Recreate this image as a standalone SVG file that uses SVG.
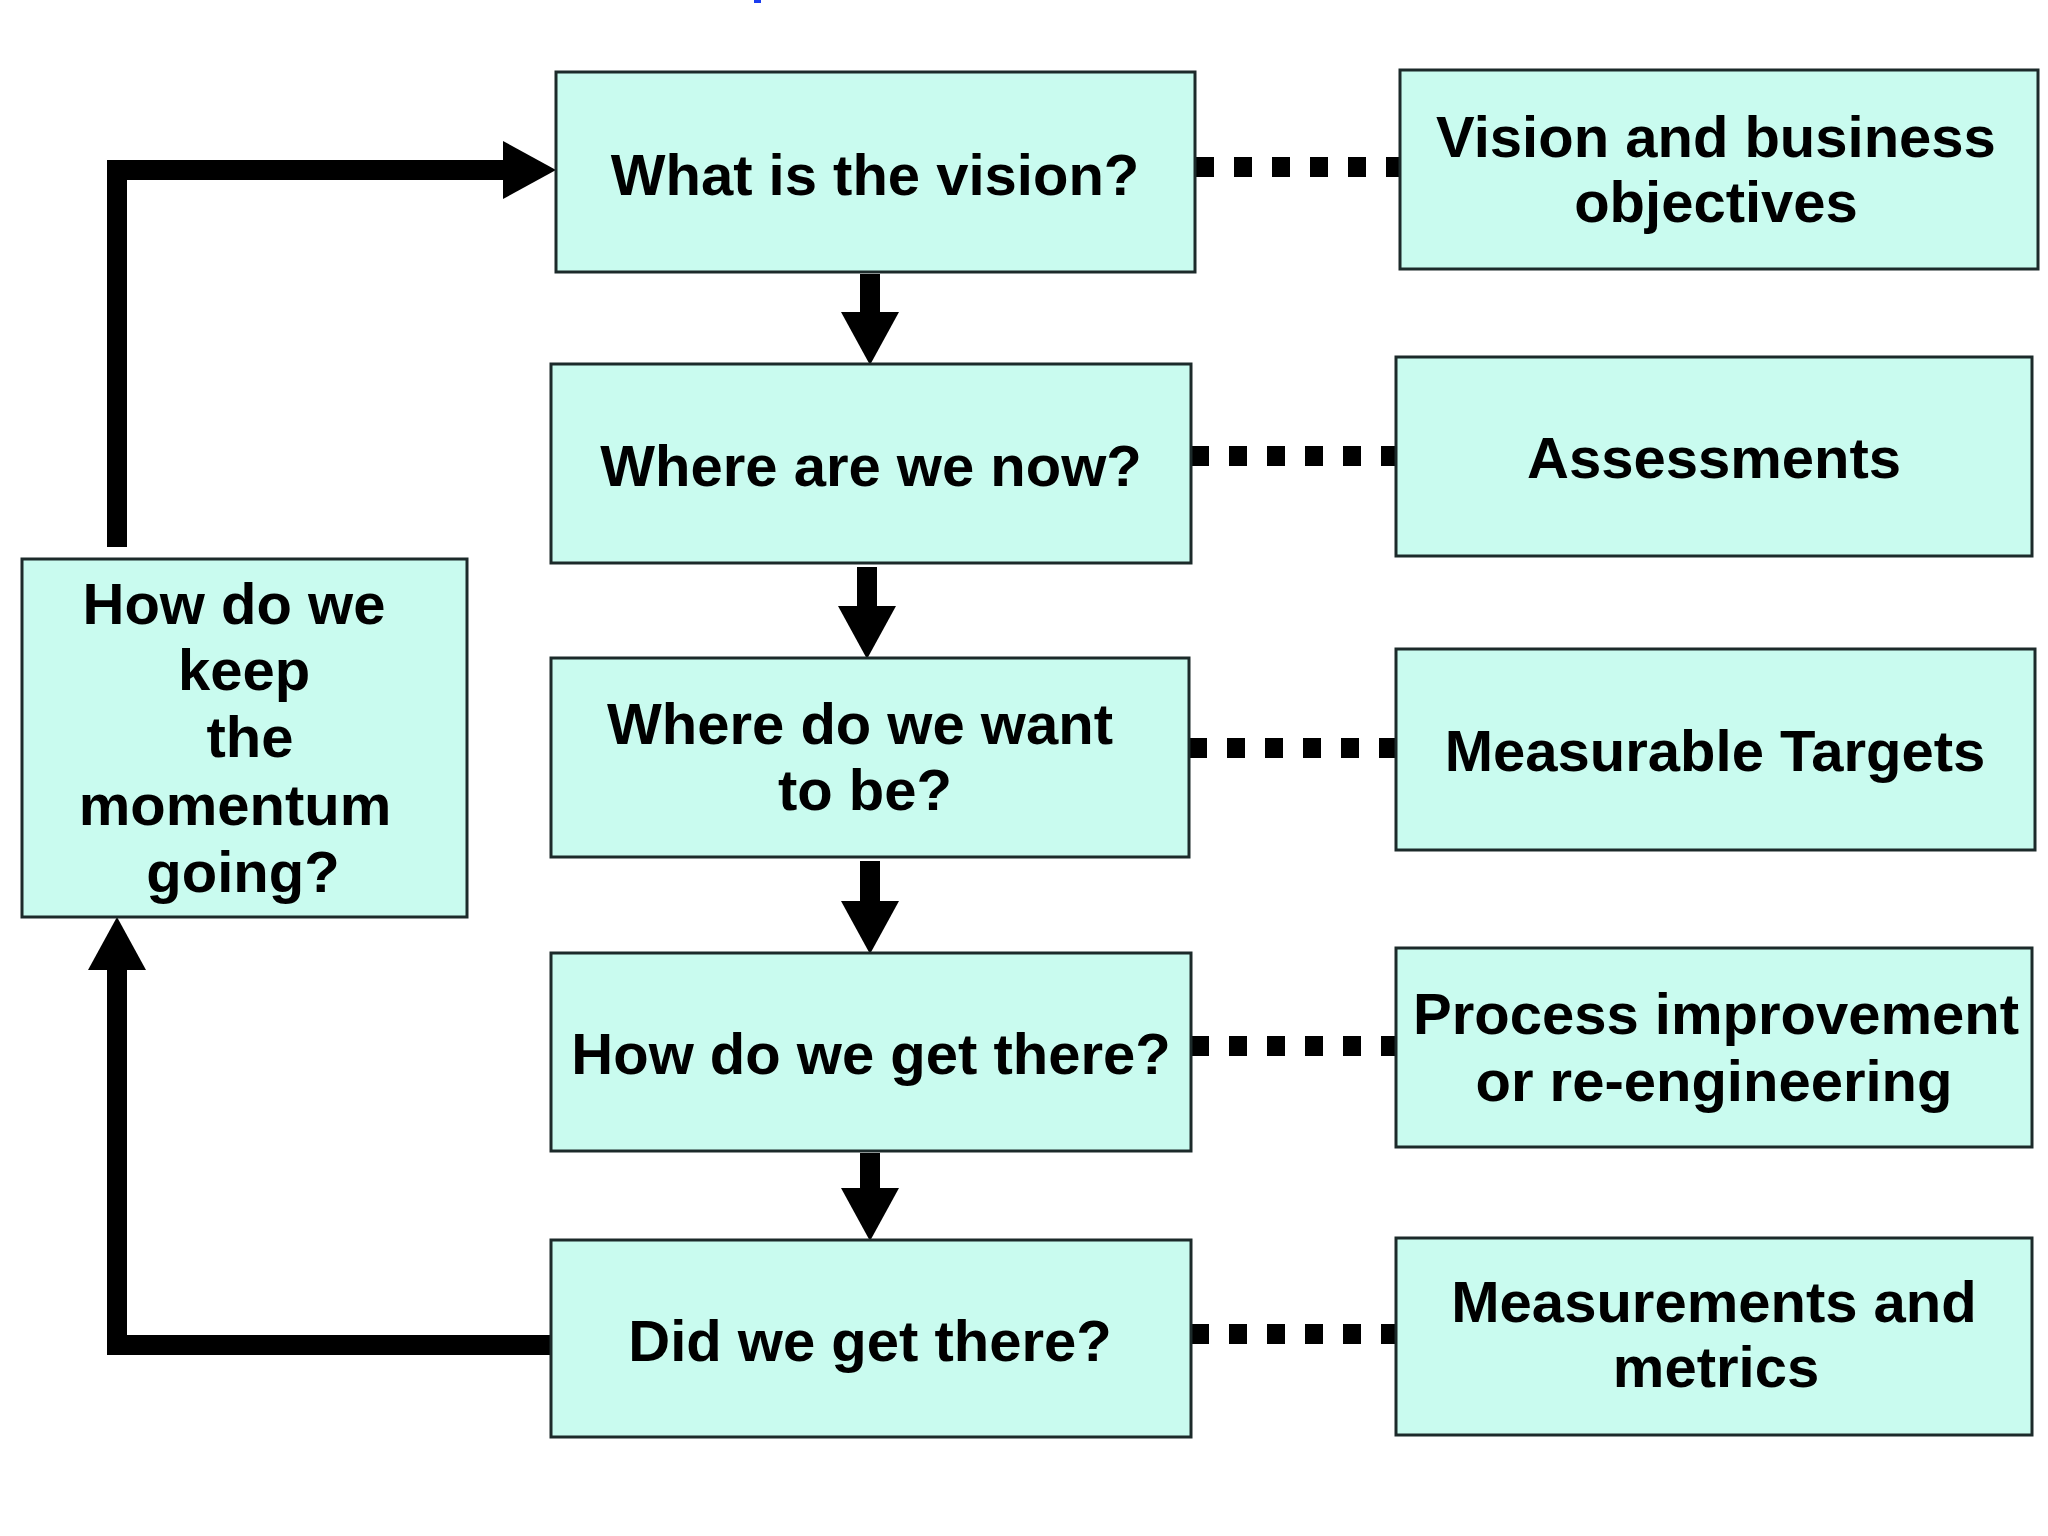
<svg xmlns="http://www.w3.org/2000/svg" width="2048" height="1536" viewBox="0 0 2048 1536">
<style>
.box{fill:#c9fbef;stroke:#1c2a2a;stroke-width:3}
.t{font-family:"Liberation Sans",Arial,sans-serif;font-weight:bold;font-size:58px;fill:#000;text-anchor:middle}
.arr{fill:none;stroke:#000;stroke-width:20;stroke-linejoin:miter;marker-end:url(#head)}
.dot{fill:none;stroke:#000;stroke-width:20;stroke-dasharray:18 20}
</style>
<defs>
<marker id="head" markerUnits="strokeWidth" markerWidth="2.7" markerHeight="2.9" refX="0" refY="1.45" orient="auto" overflow="visible">
<path d="M0,0 L2.65,1.45 L0,2.9 z" fill="#000"/>
</marker>
</defs>
<rect x="0" y="0" width="2048" height="1536" fill="#fff"/>
<rect x="754" y="0" width="7" height="3" fill="#1a3cf0"/>
<g id="connectors">
<path class="arr" d="M117,547 V170 H503"/>
<path class="arr" d="M551,1345 H117 V970"/>
<path class="arr" d="M870,274 V312"/>
<path class="arr" d="M867,567 V606"/>
<path class="arr" d="M870,861 V901"/>
<path class="arr" d="M870,1153 V1188"/>
<path class="dot" d="M1196,167 H1400"/>
<path class="dot" d="M1191,456 H1396"/>
<path class="dot" d="M1189,748 H1396"/>
<path class="dot" d="M1191,1046 H1396"/>
<path class="dot" d="M1191,1334 H1396"/>
</g>
<g id="vision">
<rect class="box" x="556" y="72" width="639" height="200"/>
<text class="t" x="875" y="195">What is the vision?</text>
</g>
<g id="now">
<rect class="box" x="551" y="364" width="640" height="199"/>
<text class="t" x="871" y="486">Where are we now?</text>
</g>
<g id="want">
<rect class="box" x="551" y="658" width="638" height="199"/>
<text class="t" x="860" y="744">Where do we want</text>
<text class="t" x="865" y="810">to be?</text>
</g>
<g id="getthere">
<rect class="box" x="551" y="953" width="640" height="198"/>
<text class="t" x="871" y="1074">How do we get there?</text>
</g>
<g id="did">
<rect class="box" x="551" y="1240" width="640" height="197"/>
<text class="t" x="870" y="1361">Did we get there?</text>
</g>
<g id="momentum">
<rect class="box" x="22" y="559" width="445" height="358"/>
<text class="t" x="234" y="624">How do we</text>
<text class="t" x="244" y="690">keep</text>
<text class="t" x="250" y="757">the</text>
<text class="t" x="235" y="825">momentum</text>
<text class="t" x="243" y="892">going?</text>
</g>
<g id="objectives">
<rect class="box" x="1400" y="70" width="638" height="199"/>
<text class="t" x="1716" y="157">Vision and business</text>
<text class="t" x="1716" y="222">objectives</text>
</g>
<g id="assessments">
<rect class="box" x="1396" y="357" width="636" height="199"/>
<text class="t" x="1714" y="478">Assessments</text>
</g>
<g id="targets">
<rect class="box" x="1396" y="649" width="639" height="201"/>
<text class="t" x="1715" y="771">Measurable Targets</text>
</g>
<g id="process">
<rect class="box" x="1396" y="948" width="636" height="199"/>
<text class="t" x="1716" y="1034">Process improvement</text>
<text class="t" x="1714" y="1101">or re-engineering</text>
</g>
<g id="metrics">
<rect class="box" x="1396" y="1238" width="636" height="197"/>
<text class="t" x="1714" y="1322">Measurements and</text>
<text class="t" x="1716" y="1387">metrics</text>
</g>
</svg>
